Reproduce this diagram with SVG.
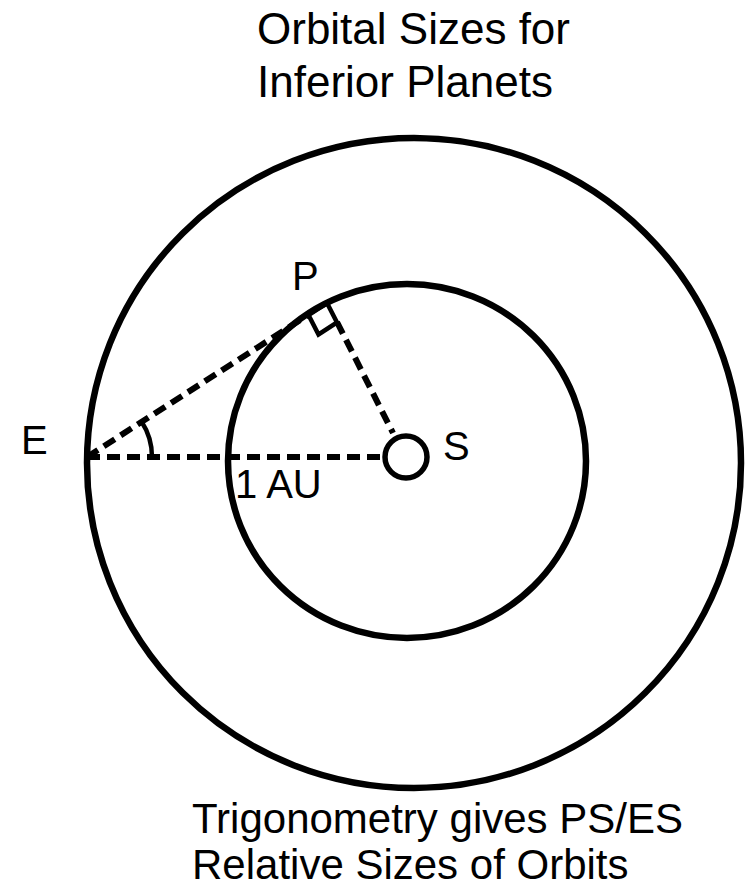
<svg xmlns="http://www.w3.org/2000/svg" width="745" height="889" viewBox="0 0 745 889">
<style>
.orbit{fill:none;stroke:#000;stroke-width:6.5}
.dash{fill:none;stroke:#000;stroke-width:6;stroke-dasharray:13,7}
.thin{fill:none;stroke:#000;stroke-width:4.5}
text{font-family:"Liberation Sans",Arial,sans-serif;fill:#000}
.t{font-size:44px}
.b{font-size:42px}
.l{font-size:40px}
</style>
<rect width="745" height="889" fill="#fff"/>
<g id="title">
<text class="t" x="257" y="44">Orbital Sizes for</text>
<text class="t" x="257" y="97">Inferior Planets</text>
</g>
<g id="outer-orbit"><ellipse class="orbit" cx="414" cy="463" rx="327" ry="325"/></g>
<g id="inner-orbit"><ellipse class="orbit" cx="407" cy="461" rx="179" ry="177"/></g>
<g id="connectors">
<line class="dash" x1="87" y1="457" x2="385" y2="457"/>
<line class="dash" x1="87" y1="457" x2="308" y2="315"/>
<line class="dash" x1="337" y1="322" x2="393" y2="433"/>
<path class="thin" d="M152,457 A65,65 0 0 0 141.5,421.6"/>
<path class="thin" d="M327,303 L308.5,315 L318.5,334.5 L337,322.5 Z"/>
</g>
<g id="sun"><circle cx="406" cy="457" r="21" fill="#fff" stroke="#000" stroke-width="5.5"/></g>
<g id="labels">
<text class="l" x="21" y="454">E</text>
<text class="l" x="292" y="290">P</text>
<text class="l" x="443" y="460">S</text>
<text class="l" x="235" y="498">1 AU</text>
</g>
<g id="caption">
<text class="b" x="192" y="833">Trigonometry gives PS/ES</text>
<text class="b" x="192" y="879">Relative Sizes of Orbits</text>
</g>
</svg>
